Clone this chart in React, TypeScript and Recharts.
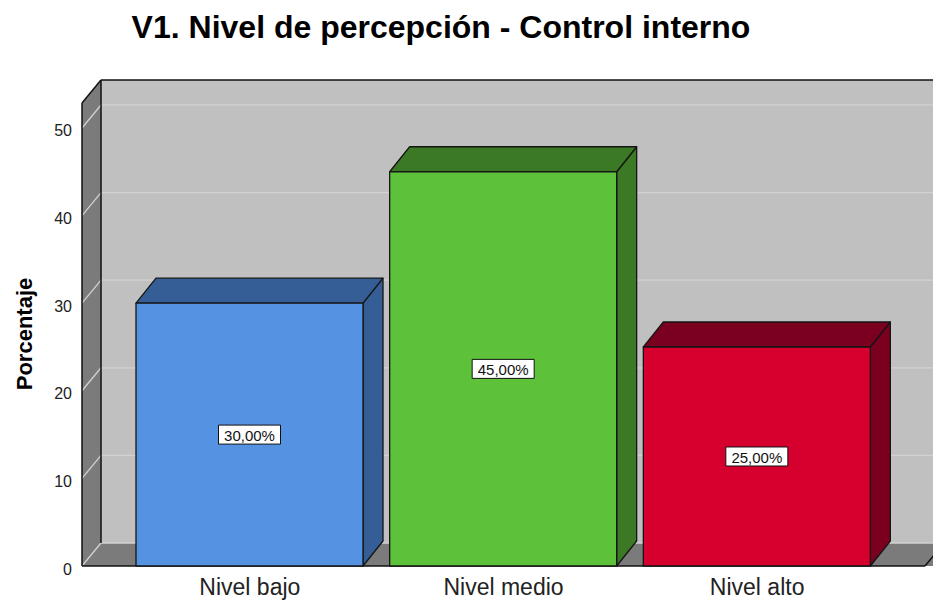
import { BarChart, Bar, XAxis, YAxis, ReferenceArea } from "recharts";

const categories = ["Nivel bajo", "Nivel medio", "Nivel alto"];
const percentages = [30, 45, 25];
const yTicks = [0, 10, 20, 30, 40, 50];
const frontColors = ["#5592e2", "#5dc23a", "#d6002f"];
const sideColors = ["#345e95", "#3b7924", "#7b0020"];

const data = categories.map((name, i) => ({
    name,
    value: percentages[i],
    front: frontColors[i],
    side: sideColors[i],
}));

const FONT = "'Liberation Sans', Arial, sans-serif";
const Y_MAX = 52.85;
const PAD = 41;
// depth offsets of the fake 3D box and of the bars
const WALL_DX = 19;
const WALL_DY = -23;
const BAR_DX = 20;
const BAR_DY = -25;

const Walls = (props: any) => {
    const { x, y, width, height } = props;
    const L = x - PAD;
    const R = x + width + PAD;
    const T = y;
    const B = y + height;
    const yv = (v: number) => B - (v / Y_MAX) * height;
    return (
        <g>
            <rect x={L + WALL_DX} y={T + WALL_DY} width={R - L + 40} height={B - T} fill="#c0c0c0" />
            <polygon points={`${L},${T} ${L + WALL_DX},${T + WALL_DY} ${L + WALL_DX},${B + WALL_DY} ${L},${B}`} fill="#7b7b7b" />
            <polygon points={`${L},${B} ${L + WALL_DX},${B + WALL_DY} ${R + WALL_DX + 40},${B + WALL_DY} ${R + 40},${B}`} fill="#7b7b7b" />
            {yTicks.map((t) => (
                <g key={t} stroke="#d2d2d2" strokeWidth={1.3}>
                    <line x1={L + WALL_DX} y1={yv(t) + WALL_DY} x2={R + WALL_DX + 40} y2={yv(t) + WALL_DY} />
                    <line x1={L} y1={yv(t)} x2={L + WALL_DX} y2={yv(t) + WALL_DY} />
                </g>
            ))}
            <g stroke="#111" strokeWidth={1.5} fill="none">
                <line x1={L} y1={T} x2={L} y2={B} />
                <line x1={L} y1={T} x2={L + WALL_DX} y2={T + WALL_DY} />
                <line x1={L + WALL_DX} y1={T + WALL_DY} x2={R + WALL_DX + 40} y2={T + WALL_DY} />
                <line x1={L + WALL_DX} y1={T + WALL_DY} x2={L + WALL_DX} y2={B + WALL_DY} />
                <line x1={L} y1={B} x2={R} y2={B} />
                <line x1={R} y1={B} x2={R + WALL_DX} y2={B + WALL_DY} />
            </g>
        </g>
    );
};

const Bar3D = (props: any) => {
    const { x, y, width, height, payload } = props;
    const r = x + width;
    const b = y + height;
    const label = `${payload.value.toFixed(2).replace(".", ",")}%`;
    const cx = x + width / 2;
    const cy = y + height / 2;
    return (
        <g stroke="#151515" strokeWidth={1.3} strokeLinejoin="round">
            <polygon points={`${r},${y} ${r + BAR_DX},${y + BAR_DY} ${r + BAR_DX},${b + BAR_DY} ${r},${b}`} fill={payload.side} />
            <polygon points={`${x},${y} ${x + BAR_DX},${y + BAR_DY} ${r + BAR_DX},${y + BAR_DY} ${r},${y}`} fill={payload.side} />
            <rect x={x} y={y} width={width} height={height} fill={payload.front} />
            <rect x={cx - 31} y={cy - 9.5} width={62} height={19} fill="#fff" stroke="#111" strokeWidth={1} />
            <text x={cx} y={cy + 1} textAnchor="middle" dominantBaseline="central" fontSize={15} fill="#111" stroke="none" fontFamily={FONT}>
                {label}
            </text>
        </g>
    );
};

const YTick = ({ x, y, payload }: any) => (
    <text x={x} y={y + 3} textAnchor="end" dominantBaseline="central" fontSize={16} fill="#222" fontFamily={FONT}>
        {payload.value}
    </text>
);

const XTick = ({ x, y, payload }: any) => (
    <text x={x} y={y} textAnchor="middle" fontSize={23} fill="#222" fontFamily={FONT}>
        {payload.value}
    </text>
);

export default function App() {
    return (
        <div style={{ position: "absolute", left: 0, top: 0, width: 933, height: 602, background: "#fff" }}>
            <svg width={933} height={50} style={{ position: "absolute", left: 0, top: 0 }}>
                <text x={441} y={38} textAnchor="middle" fontSize={32} fontWeight="bold" fill="#000" fontFamily={FONT}>
                    V1. Nivel de percepción - Control interno
                </text>
            </svg>
            <div style={{ position: "absolute", left: 0, top: 0 }}>
                <BarChart width={933} height={602} data={data} margin={{ top: 103, right: 8, bottom: 0, left: 0 }}>
                    <XAxis
                        dataKey="name"
                        padding={{ left: PAD, right: PAD }}
                        axisLine={false}
                        tickLine={false}
                        tickSize={0}
                        tickMargin={29}
                        height={36}
                        tick={<XTick />}
                    />
                    <YAxis
                        domain={[0, Y_MAX]}
                        ticks={yTicks}
                        width={82}
                        axisLine={false}
                        tickLine={false}
                        tickSize={0}
                        tickMargin={10}
                        tick={<YTick />}
                        label={({ viewBox }: any) => (
                            <text
                                x={24}
                                y={334}
                                transform="rotate(-90, 24, 334)"
                                textAnchor="middle"
                                dominantBaseline="central"
                                fontSize={22}
                                fontWeight="bold"
                                fill="#000"
                                fontFamily={FONT}
                            >
                                Porcentaje
                            </text>
                        )}
                    />
                    <ReferenceArea y1={0} y2={Y_MAX} shape={<Walls />} />
                    <Bar dataKey="value" barSize={227} shape={<Bar3D />} isAnimationActive={false} />
                </BarChart>
            </div>
        </div>
    );
}
